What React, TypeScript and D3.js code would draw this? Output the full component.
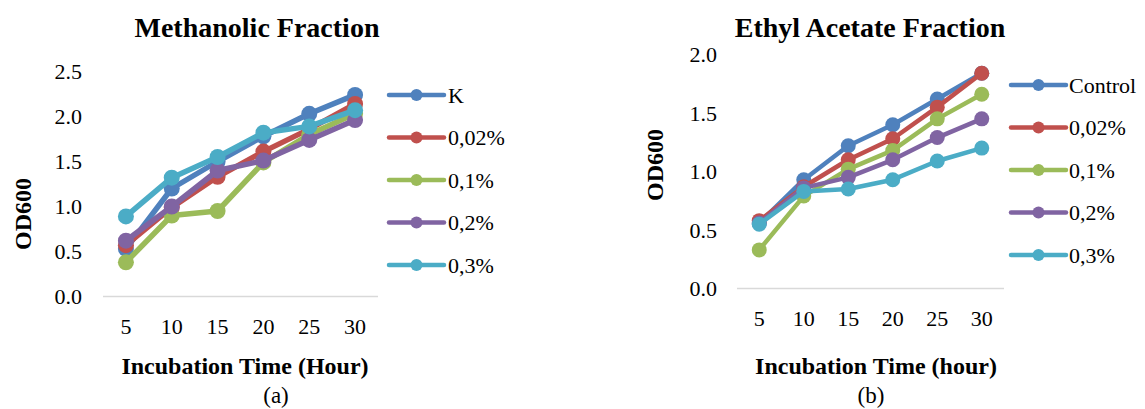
import React from "react";
import * as d3 from "d3";

const hours = ["5", "10", "15", "20", "25", "30"];

const seriesNamesA = ["K", "0,02%", "0,1%", "0,2%", "0,3%"];
const methK = [0.53, 1.2, 1.5, 1.78, 2.03, 2.24];
const meth002 = [0.57, 0.99, 1.33, 1.61, 1.86, 2.14];
const meth01 = [0.38, 0.9, 0.95, 1.49, 1.8, 2.03];
const meth02 = [0.62, 1.0, 1.4, 1.51, 1.74, 1.96];
const meth03 = [0.89, 1.32, 1.55, 1.82, 1.89, 2.07];

const seriesNamesB = ["Control", "0,02%", "0,1%", "0,2%", "0,3%"];
const ethControl = [0.56, 0.93, 1.22, 1.4, 1.62, 1.84];
const eth002 = [0.58, 0.87, 1.1, 1.28, 1.55, 1.84];
const eth01 = [0.33, 0.79, 1.02, 1.18, 1.45, 1.66];
const eth02 = [0.56, 0.86, 0.95, 1.1, 1.29, 1.45];
const eth03 = [0.55, 0.83, 0.85, 0.93, 1.09, 1.2];

const ticksA = [0, 0.5, 1.0, 1.5, 2.0, 2.5];
const ticksB = [0, 0.5, 1.0, 1.5, 2.0];

const colors = ["#4F81BD", "#C0504D", "#9BBB59", "#8064A2", "#4BACC6"];

const FONT = "'Liberation Serif', 'Times New Roman', serif";

type ChartProps = {
  title: string;
  titleX: number;
  xTitle: string;
  xTitleX: number;
  caption: string;
  captionX: number;
  yTitleX: number;
  yTitleY: number;
  names: string[];
  series: number[][];
  yTicks: number[];
  yMax: number;
  xRange: [number, number];
  yRange: [number, number];
  yLabelX: number;
  legendLineX: [number, number];
  legendTextX: number;
  legendY0: number;
  lineWidth: number;
  markerR: number;
};

function Chart(p: ChartProps) {
  const x = d3.scaleBand<string>().domain(hours).range(p.xRange).padding(0);
  const y = d3.scaleLinear().domain([0, p.yMax]).range(p.yRange);
  const cx = (h: string) => (x(h) as number) + x.bandwidth() / 2;
  const line = d3
    .line<number>()
    .x((_, i) => cx(hours[i]))
    .y((d) => y(d));
  const fmt = d3.format(".1f");
  const legendStep = 42.5;
  const lmid = (p.legendLineX[0] + p.legendLineX[1]) / 2;
  return (
    <g>
      <text
        x={p.titleX}
        y={27}
        textAnchor="middle"
        dominantBaseline="central"
        fontFamily={FONT}
        fontWeight="bold"
        fontSize={28}
        fill="#000"
      >
        {p.title}
      </text>
      {p.yTicks.map((t) => (
        <text
          key={t}
          x={p.yLabelX}
          y={y(t)}
          textAnchor="end"
          dominantBaseline="central"
          fontFamily={FONT}
          fontSize={22}
          fill="#000"
        >
          {fmt(t)}
        </text>
      ))}
      <line
        x1={p.xRange[0]}
        x2={p.xRange[1]}
        y1={y(0)}
        y2={y(0)}
        stroke="#D9D9D9"
        strokeWidth={1.5}
      />
      {hours.map((h) => (
        <text
          key={h}
          x={cx(h)}
          y={y(0) + 30}
          textAnchor="middle"
          dominantBaseline="central"
          fontFamily={FONT}
          fontSize={22}
          fill="#000"
        >
          {h}
        </text>
      ))}
      <text
        transform={`translate(${p.yTitleX},${p.yTitleY}) rotate(-90)`}
        textAnchor="middle"
        dominantBaseline="central"
        fontFamily={FONT}
        fontWeight="bold"
        fontSize={24}
        fill="#000"
      >
        OD600
      </text>
      <text
        x={p.xTitleX}
        y={366}
        textAnchor="middle"
        dominantBaseline="central"
        fontFamily={FONT}
        fontWeight="bold"
        fontSize={24}
        fill="#000"
      >
        {p.xTitle}
      </text>
      <text
        x={p.captionX}
        y={395}
        textAnchor="middle"
        dominantBaseline="central"
        fontFamily={FONT}
        fontSize={23}
        fill="#000"
      >
        {p.caption}
      </text>
      {p.series.map((s, si) => (
        <g key={si}>
          <path
            d={line(s) || ""}
            fill="none"
            stroke={colors[si]}
            strokeWidth={p.lineWidth}
            strokeLinejoin="round"
            strokeLinecap="round"
          />
          {s.map((v, i) => (
            <circle key={i} cx={cx(hours[i])} cy={y(v)} r={p.markerR} fill={colors[si]} />
          ))}
        </g>
      ))}
      {p.names.map((n, i) => {
        const ly = p.legendY0 + i * legendStep;
        return (
          <g key={n}>
            <line
              x1={p.legendLineX[0]}
              x2={p.legendLineX[1]}
              y1={ly}
              y2={ly}
              stroke={colors[i]}
              strokeWidth={4.5}
              strokeLinecap="round"
            />
            <circle cx={lmid} cy={ly} r={6} fill={colors[i]} />
            <text
              x={p.legendTextX}
              y={ly}
              dominantBaseline="central"
              fontFamily={FONT}
              fontSize={22}
              fill="#000"
            >
              {n}
            </text>
          </g>
        );
      })}
    </g>
  );
}

export default function App() {
  return (
    <svg
      width={1145}
      height={409}
      style={{ position: "absolute", left: 0, top: 0, background: "#fff" }}
    >
      <rect width={1145} height={409} fill="#fff" />
      <Chart
        title="Methanolic Fraction"
        titleX={257}
        xTitle="Incubation Time (Hour)"
        xTitleX={245}
        caption="(a)"
        captionX={276}
        yTitleX={23}
        yTitleY={214}
        names={seriesNamesA}
        series={[methK, meth002, meth01, meth02, meth03]}
        yTicks={ticksA}
        yMax={2.5}
        xRange={[103, 378]}
        yRange={[296.5, 71.5]}
        yLabelX={82}
        legendLineX={[389, 444]}
        legendTextX={448}
        legendY0={95}
        lineWidth={5.5}
        markerR={8}
      />
      <Chart
        title="Ethyl Acetate Fraction"
        titleX={870}
        xTitle="Incubation Time (hour)"
        xTitleX={876}
        caption="(b)"
        captionX={871}
        yTitleX={655}
        yTitleY={165}
        names={seriesNamesB}
        series={[ethControl, eth002, eth01, eth02, eth03]}
        yTicks={ticksB}
        yMax={2.0}
        xRange={[737, 1004]}
        yRange={[288.5, 54.5]}
        yLabelX={717}
        legendLineX={[1011, 1066]}
        legendTextX={1069}
        legendY0={85}
        lineWidth={4.5}
        markerR={7.5}
      />
    </svg>
  );
}
